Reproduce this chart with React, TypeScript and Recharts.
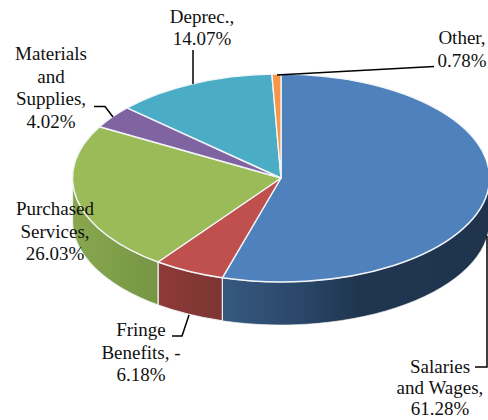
import React from 'react';
import { PieChart, Pie } from 'recharts';

const categories = ['Salaries and Wages', 'Fringe Benefits', 'Purchased Services', 'Materials and Supplies', 'Deprec.', 'Other'];
const values = [61.28, 6.18, 26.03, 4.02, 14.07, 0.78];
const labelLines = [
  ['Salaries', 'and Wages,', '61.28%'],
  ['Fringe', 'Benefits, -', '6.18%'],
  ['Purchased', 'Services,', '26.03%'],
  ['Materials', 'and', 'Supplies,', '4.02%'],
  ['Deprec.,', '14.07%'],
  ['Other,', '0.78%'],
];
const topColors = ['#4f81bd', '#c0504d', '#9bbb59', '#8064a2', '#4bacc6', '#f79646'];
const wallColors = ['url(#wallBlue)', 'url(#wallRed)', 'url(#wallGreen)', '#66507f', '#3a8aa0', '#c87a38'];

const pieData = categories.map((name, i) => ({ name, value: values[i], lines: labelLines[i] }));

const TILT = 104 / 208.5;
const DEPTH = 43;
const RAD = Math.PI / 180;

// where each label sits, and its leader line
const labelLayout = [
  { x: 440, y: 372.5, dy: 21.2, leader: '475,367 487,367 487,236' },
  { x: 141, y: 336, dy: 22.5, leader: '172,336 182,336 189,315' },
  { x: 55, y: 215, dy: 22.5, leader: '' },
  { x: 51, y: 60, dy: 22.7, leader: '94,106.5 105,106.5 113,117' },
  { x: 202, y: 23, dy: 21.5, leader: '193,50 193,84' },
  { x: 462, y: 44, dy: 22.5, leader: '277,75 434,66.5' },
];

const pt = (cx: number, cy: number, r: number, deg: number) => ({
  x: cx + r * Math.cos(deg * RAD),
  y: cy - r * TILT * Math.sin(deg * RAD),
});

const TopSlice = (props: any) => {
  const { cx, cy, outerRadius: r, startAngle, endAngle, index } = props;
  const a = pt(cx, cy, r, startAngle);
  const b = pt(cx, cy, r, endAngle);
  const large = Math.abs(startAngle - endAngle) > 180 ? 1 : 0;
  const d = `M${cx},${cy}L${a.x},${a.y}A${r},${r * TILT} 0 ${large} 1 ${b.x},${b.y}Z`;
  return <path d={d} fill={topColors[index]} stroke="#f2f5f8" strokeWidth={1.4} strokeLinejoin="round" />;
};

const WallSlice = (props: any) => {
  const { cx, cy, outerRadius: r, startAngle, endAngle, index } = props;
  // only the front half of the rim is visible
  const from = Math.min(startAngle, 0);
  const to = Math.max(endAngle, -180);
  if (from <= to) return <g />;
  const a = pt(cx, cy, r, from);
  const b = pt(cx, cy, r, to);
  const ry = r * TILT;
  const d = `M${a.x},${a.y}A${r},${ry} 0 0 1 ${b.x},${b.y}L${b.x},${b.y + DEPTH}A${r},${ry} 0 0 0 ${a.x},${a.y + DEPTH}Z`;
  return <path d={d} fill={wallColors[index]} stroke="#eef1f2" strokeWidth={index === 0 ? 0.6 : 1.2} />;
};

const SliceLabel = (props: any) => {
  const { index, lines } = props;
  const box = labelLayout[index];
  const rows: string[] = lines ?? labelLines[index];
  return (
    <g>
      {box.leader && <polyline points={box.leader} fill="none" stroke="#000" strokeWidth={1.5} />}
      {rows.map((row, i) => (
        <text
          key={row}
          x={box.x}
          y={box.y + i * box.dy}
          textAnchor="middle"
          fontFamily="'Liberation Serif', serif"
          fontSize={19}
          fill="#111"
        >
          {row}
        </text>
      ))}
    </g>
  );
};

export default function App() {
  return (
    <div style={{ position: 'absolute', left: 0, top: 0, width: 488, height: 420 }}>
      <PieChart width={488} height={420} margin={{ top: 0, right: 0, bottom: 0, left: 0 }}>
        <defs>
          <linearGradient id="wallBlue" gradientUnits="userSpaceOnUse" x1={222} y1={0} x2={490} y2={0}>
            <stop offset="0" stopColor="#36597f" />
            <stop offset="0.3" stopColor="#2a4668" />
            <stop offset="0.5" stopColor="#203650" />
            <stop offset="1" stopColor="#1f334d" />
          </linearGradient>
          <linearGradient id="wallRed" gradientUnits="userSpaceOnUse" x1={157} y1={0} x2={222} y2={0}>
            <stop offset="0" stopColor="#8f3a38" />
            <stop offset="1" stopColor="#7c3533" />
          </linearGradient>
          <linearGradient id="wallGreen" gradientUnits="userSpaceOnUse" x1={72} y1={0} x2={157} y2={0}>
            <stop offset="0" stopColor="#88a74e" />
            <stop offset="1" stopColor="#779644" />
          </linearGradient>
        </defs>
        <Pie
          data={pieData}
          dataKey="value"
          cx={281}
          cy={178}
          outerRadius={208.5}
          startAngle={90}
          endAngle={-270}
          shape={WallSlice}
          stroke="none"
          isAnimationActive={false}
        />
        <Pie
          data={pieData}
          dataKey="value"
          cx={281}
          cy={178}
          outerRadius={208.5}
          startAngle={90}
          endAngle={-270}
          shape={TopSlice}
          label={SliceLabel}
          labelLine={false}
          isAnimationActive={false}
        />
      </PieChart>
    </div>
  );
}
